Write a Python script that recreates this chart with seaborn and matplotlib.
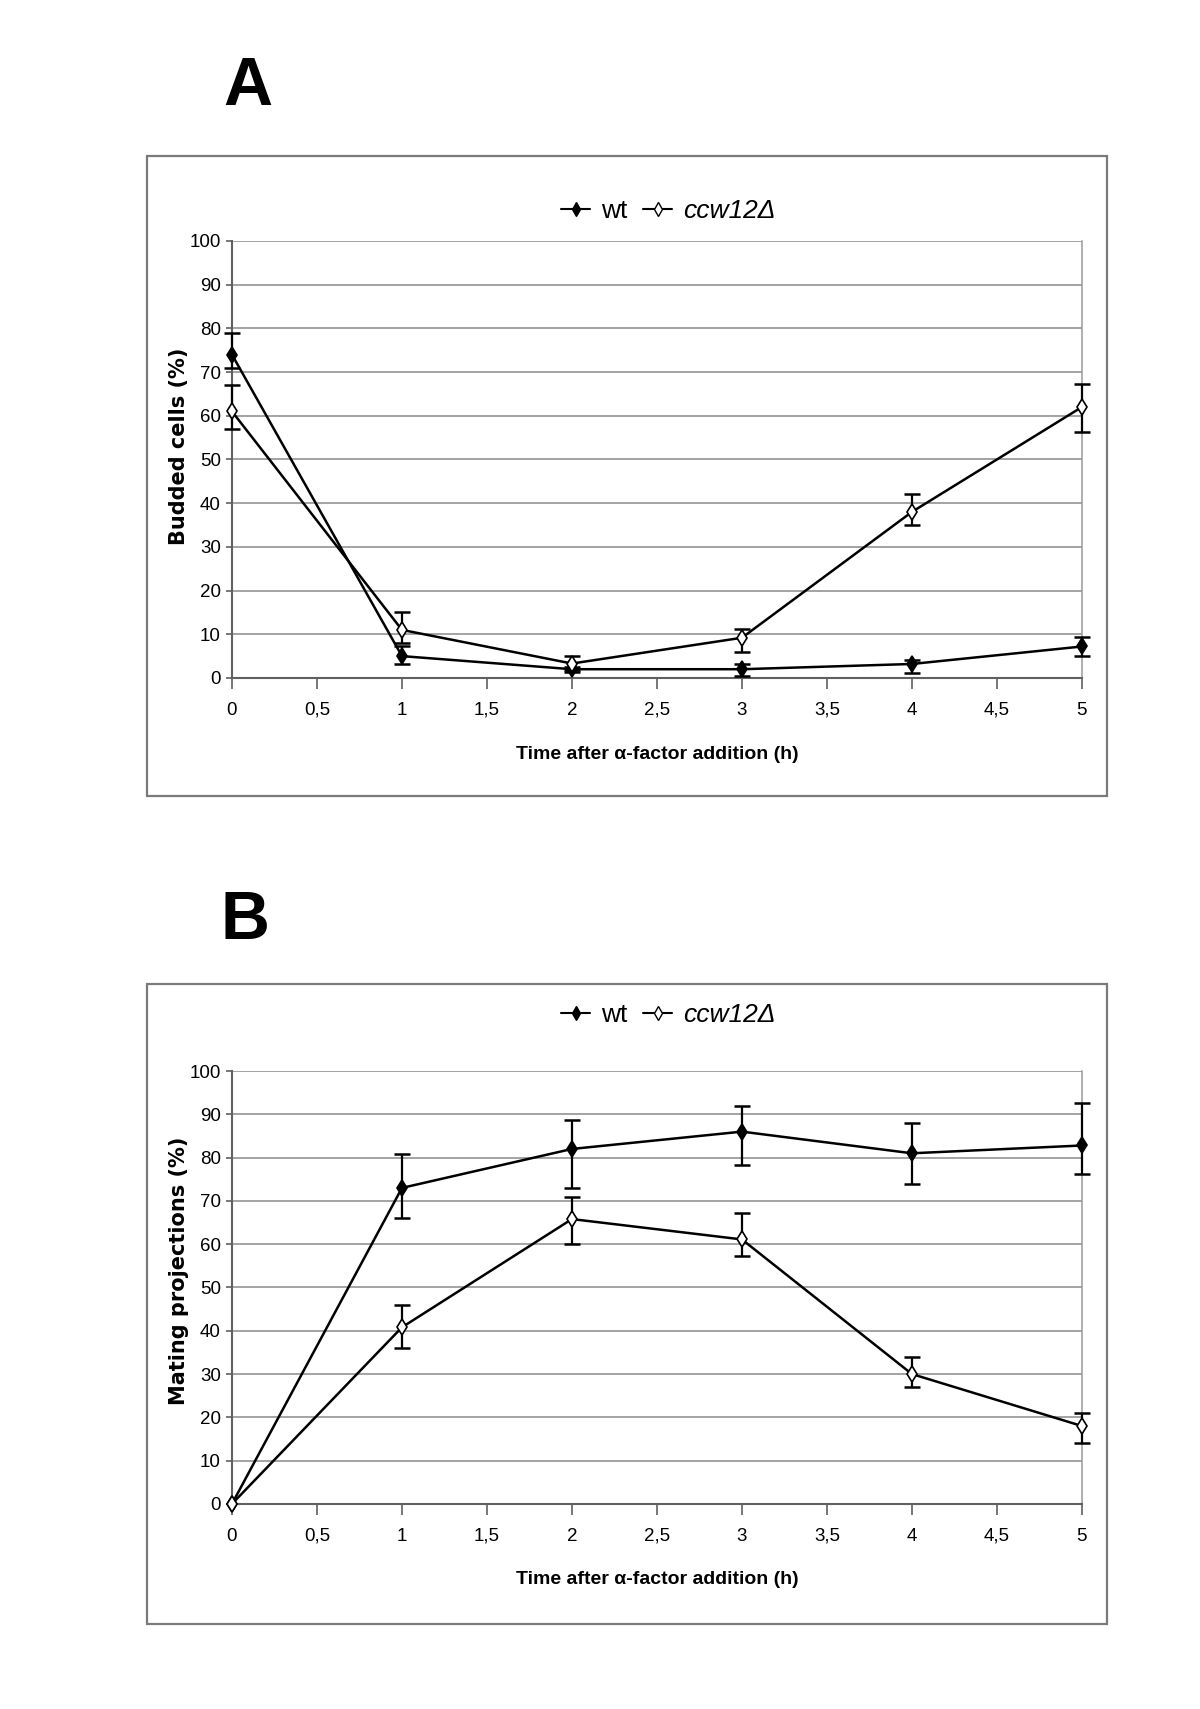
import numpy as np
import matplotlib
matplotlib.use("Agg")
import matplotlib.pyplot as plt
from matplotlib.lines import Line2D
from matplotlib.patches import Rectangle
import seaborn as sns
import pandas as pd

# data
hours = [0, 1, 2, 3, 4, 5]
xtick_vals = [0, 0.5, 1, 1.5, 2, 2.5, 3, 3.5, 4, 4.5, 5]
xtick_labels = ["0", "0,5", "1", "1,5", "2", "2,5", "3", "3,5", "4", "4,5", "5"]

budded_wt = [74, 5, 2, 2, 3.2, 7.2]
budded_wt_lo = [71, 3.3, 1.3, 0.5, 1.2, 5]
budded_wt_hi = [79, 7.3, 2.6, 3.2, 4.2, 9.3]
budded_ccw = [61, 11, 3.3, 9.2, 38, 62]
budded_ccw_lo = [57, 8, 1.8, 6, 35, 56.3]
budded_ccw_hi = [67, 15, 5.1, 11.2, 42, 67.2]

proj_wt = [0, 73, 82, 86, 81, 82.8]
proj_wt_lo = [0, 66, 73, 78.2, 73.8, 76.2]
proj_wt_hi = [0, 80.8, 88.8, 92, 88, 92.7]
proj_ccw = [0, 40.8, 65.8, 61.1, 30, 18]
proj_ccw_lo = [0, 36, 60, 57.2, 27, 14]
proj_ccw_hi = [0, 46, 71, 67.2, 34, 21]

sns.set_theme(style="white")
narrow = ["Liberation Sans Narrow", "Liberation Sans", "DejaVu Sans"]
plt.rcParams["font.family"] = narrow
plt.rcParams["text.color"] = "black"
plt.rcParams["axes.labelcolor"] = "black"
plt.rcParams["xtick.labelcolor"] = "black"
plt.rcParams["ytick.labelcolor"] = "black"

fig = plt.figure(figsize=(12, 17.09), dpi=100)
axA = fig.add_axes([0.1933, 0.6033, 0.7083, 0.2557])
axB = fig.add_axes([0.1933, 0.12, 0.7083, 0.2533])

for y0 in (0.5342, 0.0497):
    fig.patches.append(Rectangle((0.1225, y0), 0.8, 0.3745, transform=fig.transFigure,
                                 fill=False, edgecolor="#7a7a7a", lw=1.6))


def draw_series(ax, y, lo, hi, face):
    df = pd.DataFrame({"t": hours, "v": y})
    sns.lineplot(data=df, x="t", y="v", ax=ax, color="black", lw=1.8,
                 marker="d", markersize=8.5, markerfacecolor=face,
                 markeredgecolor="black", markeredgewidth=1.2, zorder=4,
                 clip_on=False)
    y = np.array(y, float)
    lo = np.array(lo, float)
    hi = np.array(hi, float)
    m = (hi - lo) > 0
    ax.errorbar(np.array(hours)[m], y[m], yerr=[y[m] - lo[m], hi[m] - y[m]],
                fmt="none", ecolor="black", elinewidth=1.6, capsize=6,
                capthick=1.8, zorder=3, clip_on=False)


def style_axes(ax, ylabel, ylab_pos):
    ax.set_xlim(0, 5)
    ax.set_ylim(0, 100)
    ax.set_yticks(range(0, 101, 10))
    ax.set_xticks(xtick_vals)
    ax.set_xticklabels(xtick_labels)
    ax.yaxis.grid(True, color="#8a8a8a", lw=1.1)
    ax.xaxis.grid(False)
    ax.set_axisbelow(True)
    ax.spines["top"].set_visible(False)
    ax.spines["right"].set_color("#9a9a9a")
    ax.spines["right"].set_linewidth(1.1)
    for s in ("left", "bottom"):
        ax.spines[s].set_color("#606060")
        ax.spines[s].set_linewidth(1.5)
    ax.tick_params(axis="x", direction="out", length=8, width=1.2, color="#606060",
                   pad=9, labelsize=13.5, bottom=True)
    ax.tick_params(axis="y", direction="out", length=4, width=1.2, color="#606060",
                   pad=4, labelsize=13.5, left=True)
    ax.set_xlabel("Time after \u03b1-factor addition (h)", fontsize=14,
                  fontweight="bold", family=narrow)
    ax.xaxis.set_label_coords(0.5, -0.155)
    ax.xaxis.label.set_va("top")
    ax.set_ylabel(ylabel, fontsize=15, fontweight="bold",
                  family=["DejaVu Sans"])
    ax.yaxis.set_label_coords(-0.05, ylab_pos)


draw_series(axA, budded_wt, budded_wt_lo, budded_wt_hi, "black")
draw_series(axA, budded_ccw, budded_ccw_lo, budded_ccw_hi, "white")
style_axes(axA, "Budded cells (%)", 0.53)

draw_series(axB, proj_wt, proj_wt_lo, proj_wt_hi, "black")
draw_series(axB, proj_ccw, proj_ccw_lo, proj_ccw_hi, "white")
style_axes(axB, "Mating projections (%)", 0.538)

handles = [Line2D([], [], color="black", lw=1.5, marker="d", markersize=7,
                  markerfacecolor="black", markeredgecolor="black"),
           Line2D([], [], color="black", lw=1.5, marker="d", markersize=7,
                  markerfacecolor="white", markeredgecolor="black")]
for ycen in (0.8765, 0.406):
    leg = fig.legend(handles, ["wt", "ccw12\u0394"], loc="center",
                     bbox_to_anchor=(0.557, ycen), ncol=2, frameon=False,
                     handlelength=1.1, handletextpad=0.4, columnspacing=0.6,
                     prop={"family": narrow, "size": 19})
    leg.get_texts()[1].set_style("italic")

fig.text(0.2067, 0.949, "A", ha="center", va="center", fontsize=49,
         fontweight="bold", color="black", family=["Liberation Sans", "DejaVu Sans"])
fig.text(0.204, 0.461, "B", ha="center", va="center", fontsize=49,
         fontweight="bold", color="black", family=["Liberation Sans", "DejaVu Sans"])

fig.savefig("out.png", dpi=100, facecolor="white")
